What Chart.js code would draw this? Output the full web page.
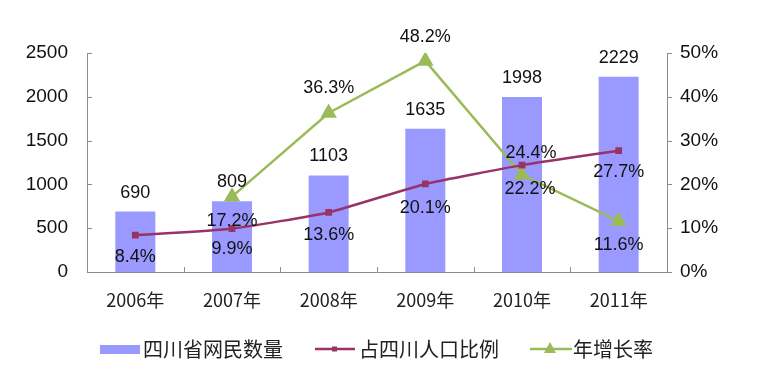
<!DOCTYPE html>
<html>
<head>
<meta charset="utf-8">
<script src="https://cdn.jsdelivr.net/npm/chart.js@4"></script>
<style>
  html, body { margin: 0; padding: 0; background: #fff; }
  #wrap { width: 761px; height: 375px; }
</style>
</head>
<body>
<div id="wrap"><canvas id="netChart" width="761" height="375"></canvas></div>
<script>
// Data
const years = ["2006年", "2007年", "2008年", "2009年", "2010年", "2011年"];
const netUsers = [690, 809, 1103, 1635, 1998, 2229];          // 四川省网民数量 (万人)
const popShare = [8.4, 9.9, 13.6, 20.1, 24.4, 27.7];           // 占四川人口比例 (%)
const growthRate = [null, 17.2, 36.3, 48.2, 22.2, 11.6];       // 年增长率 (%)
const leftTicks = [0, 500, 1000, 1500, 2000, 2500];
const rightTicks = [0, 10, 20, 30, 40, 50];

const seriesNames = ["四川省网民数量", "占四川人口比例", "年增长率"];
const colors = { bar: "#9999ff", share: "#993366", growth: "#9bbb59", axis: "#8c8c8c", text: "#111" };

const numFont = "'Liberation Sans', Arial, sans-serif";
const cjkFont = "'Noto Sans CJK SC', sans-serif";

// Label offsets from each mark (dx, dy), set to match the original placement
const labelOffsets = [
  [[0, -19], [0, -19], [0, -19], [0, -19], [0, -19], [0, -19]],
  [[0, 22], [0, 20], [0, 23], [0, 24], [9, -12], [0, 21]],
  [null, [0, 24], [0, -25], [0, -24], [8, 14], [0, 24]]
];

// Draws value labels next to the marks
const valueLabels = {
  id: "valueLabels",
  afterDatasetsDraw(chart) {
    const ctx = chart.ctx;
    ctx.save();
    ctx.font = "18px " + numFont;
    ctx.fillStyle = colors.text;
    ctx.textAlign = "center";
    ctx.textBaseline = "middle";
    chart.data.datasets.forEach((ds, di) => {
      const meta = chart.getDatasetMeta(di);
      meta.data.forEach((el, i) => {
        const v = ds.data[i];
        if (v === null || v === undefined) return;
        const off = labelOffsets[di][i];
        const txt = di === 0 ? String(v) : v.toFixed(1) + "%";
        ctx.fillText(txt, el.x + off[0], el.y + off[1]);
      });
    });
    ctx.restore();
  }
};

// Small tick marks on the axes, like the original
const axisTicks = {
  id: "axisTicks",
  afterDraw(chart) {
    const ctx = chart.ctx;
    const a = chart.chartArea;
    const x = chart.scales.x, y = chart.scales.y, y1 = chart.scales.y1;
    ctx.save();
    ctx.strokeStyle = colors.axis;
    ctx.lineWidth = 1;
    ctx.beginPath();
    for (let i = 1; i < years.length; i++) {
      const px = Math.round((x.getPixelForTick(i - 1) + x.getPixelForTick(i)) / 2) + 0.5;
      ctx.moveTo(px, a.bottom);
      ctx.lineTo(px, a.bottom - 5);
    }
    leftTicks.forEach(t => {
      const py = Math.round(y.getPixelForValue(t)) + 0.5;
      ctx.moveTo(a.left, py);
      ctx.lineTo(a.left + 5, py);
    });
    rightTicks.forEach(t => {
      const py = Math.round(y1.getPixelForValue(t)) + 0.5;
      ctx.moveTo(a.right, py);
      ctx.lineTo(a.right + 5, py);
    });
    ctx.stroke();
    ctx.restore();
  }
};

// Legend drawn below the chart (swatch, line+marker)
const bottomLegend = {
  id: "bottomLegend",
  afterDraw(chart) {
    const ctx = chart.ctx;
    const cy = 349;
    ctx.save();
    ctx.font = "20px " + cjkFont;
    ctx.textBaseline = "middle";
    ctx.textAlign = "left";

    // bar swatch
    ctx.fillStyle = colors.bar;
    ctx.fillRect(100, cy - 4, 40, 9);
    ctx.fillStyle = "#222";
    ctx.fillText(seriesNames[0], 143, cy);

    // share line
    ctx.strokeStyle = colors.share;
    ctx.lineWidth = 2.5;
    ctx.beginPath();
    ctx.moveTo(315, cy);
    ctx.lineTo(355, cy);
    ctx.stroke();
    ctx.fillStyle = colors.share;
    ctx.fillRect(332, cy - 2.5, 5, 5);
    ctx.fillStyle = "#222";
    ctx.fillText(seriesNames[1], 359, cy);

    // growth line
    ctx.strokeStyle = colors.growth;
    ctx.beginPath();
    ctx.moveTo(530, cy);
    ctx.lineTo(572, cy);
    ctx.stroke();
    ctx.fillStyle = colors.growth;
    ctx.beginPath();
    ctx.moveTo(550, cy - 7);
    ctx.lineTo(556, cy + 4);
    ctx.lineTo(544, cy + 4);
    ctx.closePath();
    ctx.fill();
    ctx.fillStyle = "#222";
    ctx.fillText(seriesNames[2], 573, cy);
    ctx.restore();
  }
};

new Chart(document.getElementById("netChart"), {
  data: {
    labels: years,
    datasets: [
      {
        type: "bar",
        label: seriesNames[0],
        data: netUsers,
        backgroundColor: colors.bar,
        yAxisID: "y",
        categoryPercentage: 1,
        barPercentage: 0.414,
        order: 3
      },
      {
        type: "line",
        label: seriesNames[1],
        data: popShare,
        borderColor: colors.share,
        backgroundColor: colors.share,
        borderWidth: 2.5,
        pointStyle: "rect",
        pointRadius: 3,
        tension: 0.15,
        yAxisID: "y1",
        order: 1
      },
      {
        type: "line",
        label: seriesNames[2],
        data: growthRate,
        borderColor: colors.growth,
        backgroundColor: colors.growth,
        borderWidth: 2.5,
        pointStyle: "triangle",
        pointRadius: 7,
        tension: 0,
        yAxisID: "y1",
        order: 2
      }
    ]
  },
  options: {
    responsive: false,
    animation: false,
    layout: { padding: { top: 53, bottom: 63, left: 0, right: 0 } },
    plugins: {
      legend: { display: false },
      tooltip: { enabled: false }
    },
    scales: {
      x: {
        grid: { display: false, drawTicks: false },
        border: { color: colors.axis },
        ticks: { font: { family: cjkFont, size: 18 }, color: "#222", padding: 17 },
        afterFit(s) { s.height = 40; }
      },
      y: {
        position: "left",
        min: 0,
        max: 2500,
        grid: { display: false, drawTicks: false },
        border: { color: colors.axis },
        afterBuildTicks(s) { s.ticks = leftTicks.map(v => ({ value: v })); },
        ticks: {
          font: { family: numFont, size: 19 },
          color: colors.text,
          padding: 19,
          callback: v => String(v)
        },
        afterFit(s) { s.width = 87; }
      },
      y1: {
        position: "right",
        min: 0,
        max: 50,
        grid: { display: false, drawTicks: false },
        border: { color: colors.axis },
        afterBuildTicks(s) { s.ticks = rightTicks.map(v => ({ value: v })); },
        ticks: {
          font: { family: numFont, size: 19 },
          color: colors.text,
          padding: 13,
          callback: v => v + "%"
        },
        afterFit(s) { s.width = 94; }
      }
    }
  },
  plugins: [valueLabels, axisTicks, bottomLegend]
});
</script>
</body>
</html>
